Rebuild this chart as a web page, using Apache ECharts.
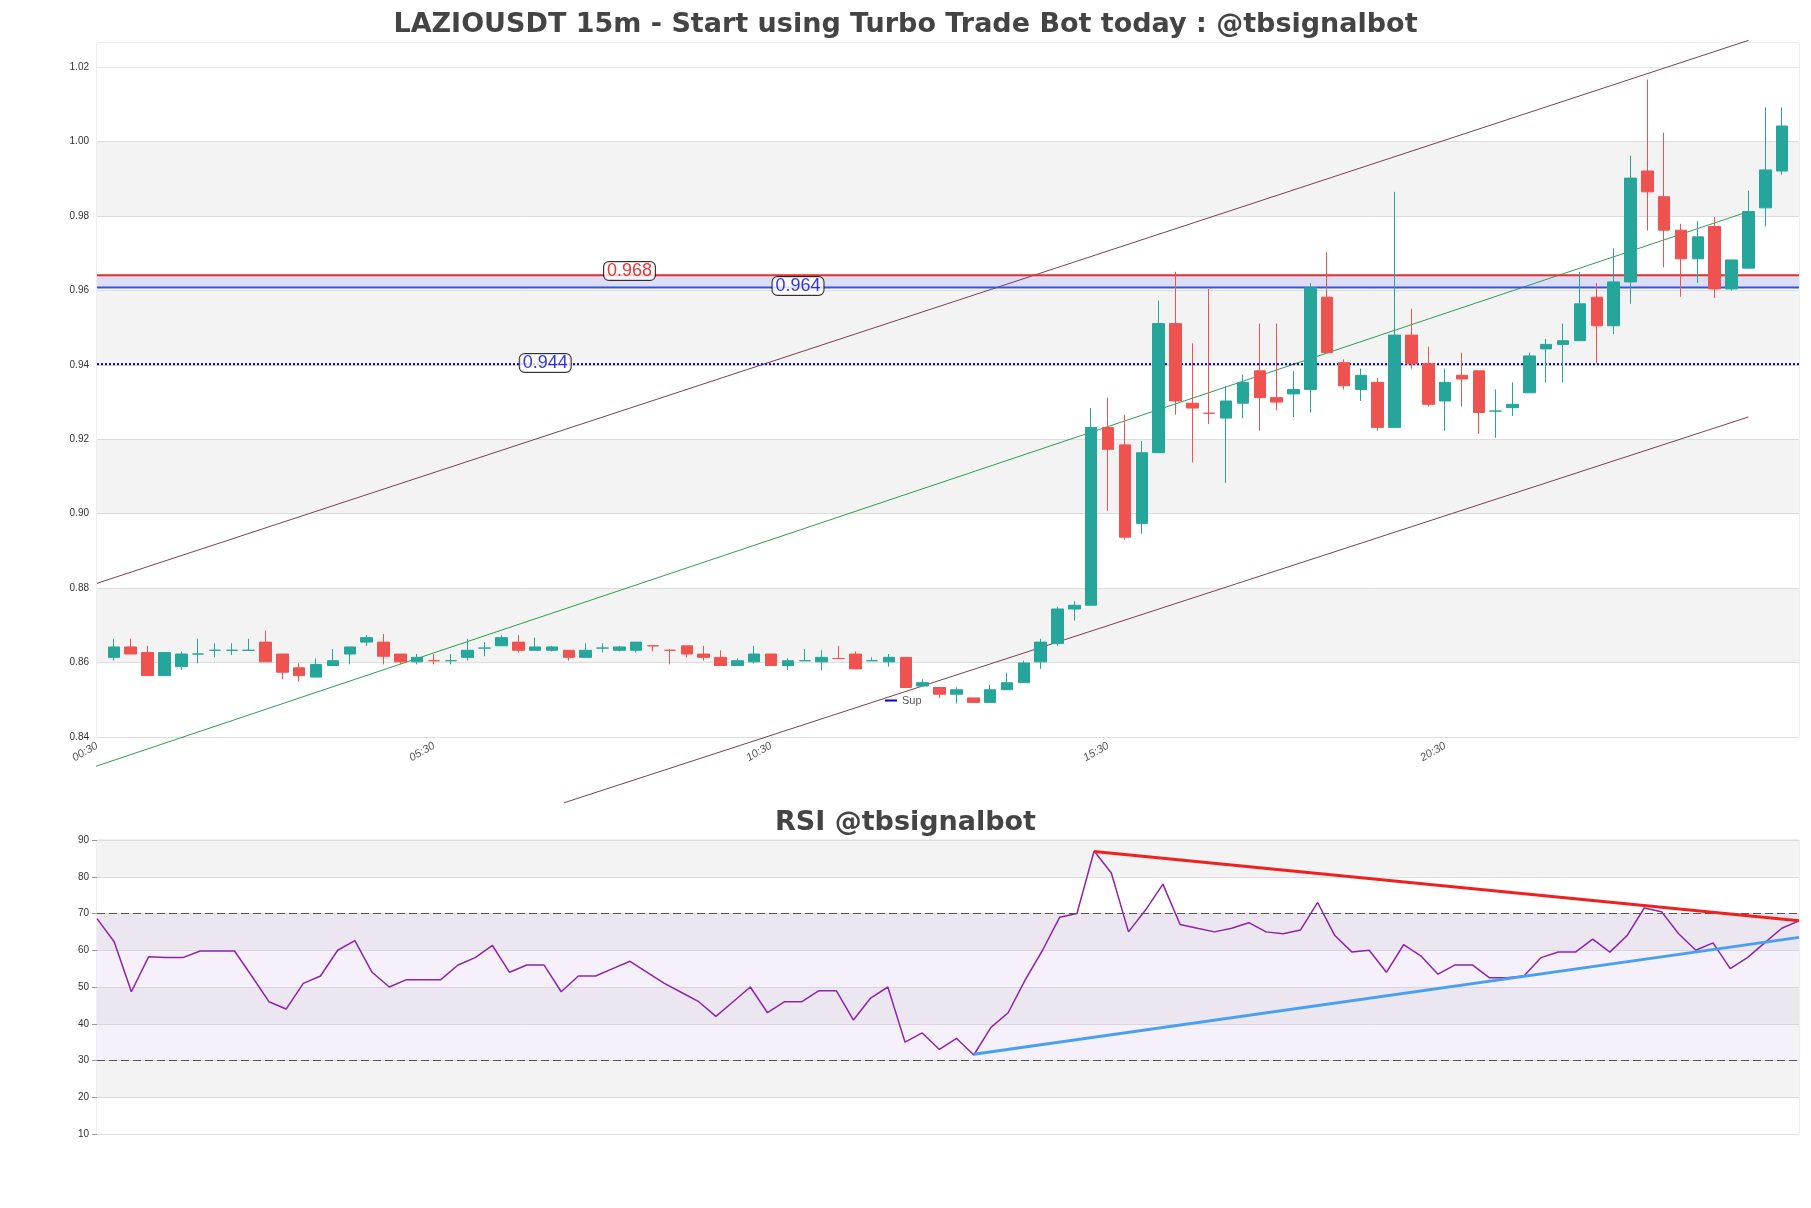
<!DOCTYPE html>
<html>
<head>
<meta charset="utf-8">
<script src="https://cdn.jsdelivr.net/npm/echarts@6/dist/echarts.min.js"></script>
<style>html,body{margin:0;background:#fff}#main{width:1811px;height:1208px}</style>
</head>
<body>
<div id="main"></div>
<script>
// candles: [open, close, low, high]
var opens  = [.8614,.8642,.8627,.8565,.8589,.8623,.8633,.8633,.8633,.8655,.8623,.8586,.8561,.8592,.8623,.8655,.8655,.8623,.8602,.8605,.8605,.8614,.8639,.8645,.8655,.8633,.8633,.8633,.8614,.8639,.8633,.8633,.8645,.8633,.8645,.8623,.8614,.8592,.8602,.8623,.8592,.8605,.8602,.8611,.8623,.8605,.8602,.8614,.8537,.8533,.8515,.8505,.8493,.8527,.8546,.8602,.8651,.8744,.8754,.9232,.9185,.8974,.9164,.9511,.9297,.9270,.9257,.9297,.9384,.9312,.9322,.9334,.9582,.9406,.9334,.9353,.9232,.9480,.9403,.9303,.9372,.9384,.9276,.9285,.9325,.9443,.9455,.9465,.9582,.9505,.9623,.9921,.9852,.9762,.9685,.9772,.9604,.9660,.9822,.9921];
var closes = [.8642,.8623,.8565,.8627,.8623,.8623,.8633,.8633,.8633,.8602,.8574,.8565,.8595,.8605,.8642,.8667,.8617,.8602,.8614,.8605,.8605,.8633,.8639,.8667,.8633,.8642,.8642,.8614,.8633,.8639,.8642,.8655,.8645,.8633,.8623,.8614,.8592,.8605,.8623,.8592,.8605,.8605,.8614,.8611,.8583,.8605,.8614,.8533,.8546,.8515,.8527,.8493,.8527,.8546,.8599,.8655,.8744,.8754,.9232,.9173,.8937,.9164,.9511,.9303,.9284,.9270,.9303,.9353,.9312,.9300,.9334,.9607,.9433,.9344,.9372,.9232,.9480,.9403,.9294,.9353,.9362,.9272,.9276,.9294,.9424,.9455,.9465,.9564,.9505,.9623,.9902,.9865,.9762,.9685,.9744,.9604,.9682,.9812,.9924,1.0042];
var lows   = [.8605,.8623,.8565,.8565,.8580,.8598,.8614,.8620,.8633,.8602,.8555,.8549,.8561,.8592,.8595,.8645,.8595,.8595,.8595,.8595,.8595,.8605,.8617,.8645,.8627,.8633,.8630,.8605,.8614,.8627,.8630,.8627,.8630,.8595,.8614,.8605,.8592,.8592,.8598,.8592,.8580,.8605,.8580,.8611,.8583,.8605,.8589,.8533,.8537,.8505,.8490,.8493,.8493,.8527,.8546,.8583,.8645,.8713,.8754,.9008,.8930,.8946,.9164,.9266,.9138,.9241,.9083,.9257,.9223,.9278,.9260,.9272,.9433,.9334,.9303,.9223,.9232,.9390,.9288,.9223,.9288,.9214,.9204,.9263,.9325,.9353,.9353,.9465,.9405,.9483,.9564,.9761,.9662,.9583,.9620,.9580,.9600,.9660,.9772,.9911];
var highs  = [.8664,.8664,.8645,.8627,.8630,.8664,.8652,.8652,.8664,.8686,.8623,.8598,.8611,.8636,.8642,.8674,.8677,.8623,.8623,.8623,.8623,.8664,.8655,.8674,.8674,.8667,.8645,.8633,.8652,.8652,.8645,.8655,.8648,.8636,.8645,.8645,.8633,.8611,.8645,.8623,.8611,.8636,.8633,.8645,.8630,.8614,.8623,.8614,.8555,.8533,.8533,.8505,.8540,.8573,.8605,.8664,.8750,.8765,.9284,.9312,.9266,.9195,.9573,.9650,.9458,.9604,.9343,.9374,.9511,.9511,.9384,.9620,.9703,.9415,.9390,.9365,.9865,.9551,.9449,.9390,.9433,.9384,.9334,.9353,.9433,.9470,.9511,.9650,.9620,.9713,.9962,1.0167,1.0024,.9779,.9786,.9797,.9682,.9868,1.0092,1.0092];
var rsi = [68.6,62.3,48.7,58.2,58,58,59.8,59.8,59.8,53,46,44,51,53,60,62.6,54,50,52,52,52,56,58,61.3,54,56,56,48.7,53,53,55,57,54,51,48.5,46,42,46,50,43,46,46,49,49,41,47,50,35,37.5,33,36,31.5,39,43,52,60,69,70,87,81,65,71,78,67,66,65,66,67.5,65,64.5,65.5,73,64,59.5,60,54,61.5,58.5,53.5,56,56,52.5,52.5,53,58,59.5,59.5,63,59.5,64,71.5,70.5,64.5,60,62,55,58,62,66,68];
var supLevel = 0.9402, resLevel = 0.9641, midLevel = 0.9608;

// time labels, 15m slots from 00:30, with one empty slot each side
var times = [];
for (var i = 0; i < 102; i++) {
    var m = 30 + i * 15;
    var h = Math.floor(m / 60) % 24, mm = m % 60;
    times.push((h < 10 ? '0' : '') + h + ':' + (mm < 10 ? '0' : '') + mm);
}
var candleData = [];
for (var i = 0; i < opens.length; i++) candleData.push([i + 1, opens[i], closes[i], lows[i], highs[i]]);
var rsiX = rsi.map(function(v, i) { return i; });

function seg(x1, y1, x2, y2, color, w) {
    return { type: 'line', xAxisIndex: 0, yAxisIndex: 0, data: [[x1, y1], [x2, y2]], symbol: 'none', clip: false,
             lineStyle: { color: color, width: w }, silent: true, z: 3 };
}
function tag(x, y, text, color) {
    return { type: 'scatter', xAxisIndex: 0, yAxisIndex: 0, data: [[x, y]], symbolSize: 0, z: 6,
             label: { show: true, formatter: text, color: color, fontSize: 18, backgroundColor: '#fff',
                      borderColor: '#000', borderWidth: 1, borderRadius: 5, padding: [0, 3] } };
}

var option = {
    animation: false,
    backgroundColor: '#fff',
    title: [
        { text: 'LAZIOUSDT 15m - Start using Turbo Trade Bot today : @tbsignalbot', left: 'center', top: 6,
          textStyle: { fontSize: 27, fontWeight: 'bold', color: '#444', fontFamily: 'DejaVu Sans' } },
        { text: 'RSI @tbsignalbot', left: 'center', top: 804,
          textStyle: { fontSize: 27, fontWeight: 'bold', color: '#444', fontFamily: 'DejaVu Sans' } }
    ],
    legend: { data: [{ name: 'Sup', icon: 'rect', itemStyle: { color: '#0000cc' } }], left: 880, top: 690,
              itemWidth: 12, itemHeight: 2, textStyle: { fontSize: 11 } },
    grid: [
        { left: 97, right: 12, top: 43, height: 694, show: true, borderColor: '#ddd', borderWidth: 1 },
        { left: 97, right: 12, top: 840, height: 294, show: true, borderColor: '#ddd', borderWidth: 1 }
    ],
    xAxis: [
        { type: 'value', gridIndex: 0, min: 0, max: 101, interval: 20, splitLine: { show: false },
          axisLine: { show: false }, axisTick: { show: false },
          axisLabel: { rotate: 30, fontSize: 11, color: '#555', fontStyle: 'italic', margin: 8,
                       formatter: function(v) { return v < 100 ? times[v] : ''; } } },
        { type: 'category', gridIndex: 1, data: rsiX, boundaryGap: false, show: false }
    ],
    yAxis: [
        { type: 'value', gridIndex: 0, min: 0.84, max: 1.0265, interval: 0.02,
          axisLine: { show: false }, axisTick: { show: false },
          axisLabel: { fontSize: 10, color: '#333', showMaxLabel: false,
                       formatter: function(v) { return v.toFixed(2); } },
          splitLine: { lineStyle: { color: '#ddd' } },
          splitArea: { show: true, areaStyle: { color: ['#fff', '#f3f3f3'] } } },
        { type: 'value', gridIndex: 1, min: 10, max: 90, interval: 10,
          axisLine: { show: false }, axisTick: { show: true, lineStyle: { color: '#999' } },
          axisLabel: { fontSize: 10, color: '#333' },
          splitLine: { lineStyle: { color: '#ddd' } },
          splitArea: { show: true, areaStyle: { color: ['#fff', '#f3f3f3'] } } }
    ],
    series: [
        { type: 'candlestick', name: 'price', xAxisIndex: 0, yAxisIndex: 0, barWidth: 12, z: 4,
          data: candleData, encode: { x: 0, y: [1, 2, 3, 4] },
          itemStyle: { color: '#26a69a', color0: '#ef5350', borderColor: '#26a69a', borderColor0: '#ef5350' },
          markArea: { silent: true, itemStyle: { color: '#fff' }, data: [[{ yAxis: 1.02 }, { yAxis: 1.0265 }]] } },
        seg(0, 0.8813, 98, 1.0272, '#7b3f52', 1),
        seg(27.7, 0.8223, 98, 0.9260, '#7b3f52', 1),
        seg(-1, 0.8307, 98, 0.9812, '#2e9e4f', 1),
        { type: 'line', name: 'Sup', xAxisIndex: 0, yAxisIndex: 0, data: [[0, supLevel], [101, supLevel]], symbol: 'none',
          lineStyle: { color: '#0000cc', width: 2, type: 'dotted' }, z: 3,
          markArea: { silent: true, itemStyle: { color: 'rgba(120,120,220,0.25)' },
                      data: [[{ yAxis: midLevel }, { yAxis: resLevel }]] } },
        seg(0, resLevel, 101, resLevel, '#e03030', 2),
        seg(0, midLevel, 101, midLevel, '#3355dd', 2),
        tag(31.6, 0.9652, '0.968', '#e00000'),
        tag(41.6, 0.9612, '0.964', '#0000dd'),
        tag(26.6, 0.9405, '0.944', '#0000dd'),
        { type: 'line', xAxisIndex: 1, yAxisIndex: 1, data: rsi, symbol: 'none', z: 4,
          lineStyle: { color: '#8e24aa', width: 1.5 },
          markArea: { silent: true, itemStyle: { color: 'rgba(200,170,230,0.18)' },
                      data: [[{ yAxis: 30 }, { yAxis: 70 }]] },
          markLine: { silent: true, symbol: 'none', label: { show: false },
                      lineStyle: { color: '#555', type: [8, 4], width: 1 },
                      data: [{ yAxis: 70 }, { yAxis: 30 }] } },
        { type: 'line', xAxisIndex: 1, yAxisIndex: 1, data: [[58, 86.9], [99, 68]], symbol: 'none', z: 5,
          lineStyle: { color: '#f02020', width: 3 } },
        { type: 'line', xAxisIndex: 1, yAxisIndex: 1, data: [[51, 31.7], [99, 63.5]], symbol: 'none', z: 5,
          lineStyle: { color: '#4aa0f0', width: 3 } }
    ]
};
var chart = echarts.init(document.getElementById('main'));
chart.setOption(option);
</script>
</body>
</html>
